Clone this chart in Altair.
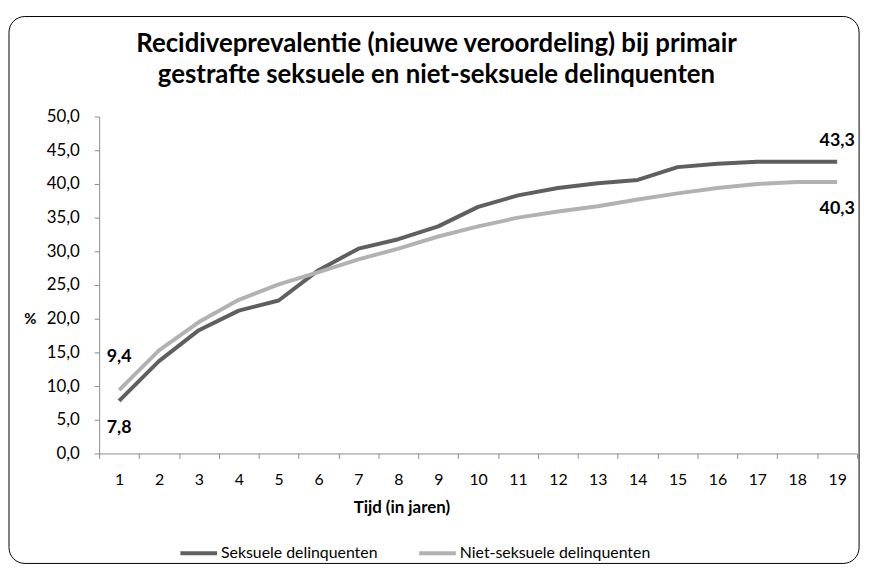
import altair as alt
import pandas as pd

jaren = list(range(1, 20))
seksueel = [7.8, 13.7, 18.3, 21.2, 22.7, 27.2, 30.4, 31.8, 33.7, 36.6, 38.3, 39.4,
            40.1, 40.6, 42.5, 43.0, 43.3, 43.3, 43.3]
niet_seksueel = [9.4, 15.3, 19.5, 22.8, 25.1, 26.9, 28.8, 30.4, 32.2, 33.7, 35.0, 35.9,
                 36.7, 37.7, 38.6, 39.4, 40.0, 40.3, 40.3]
reeksen = ["Seksuele delinquenten", "Niet-seksuele delinquenten"]
kleuren = ["#5f5f5f", "#b2b2b2"]

rows = []
for naam, waarden in zip(reeksen, [seksueel, niet_seksueel]):
    for j, v in zip(jaren, waarden):
        rows.append({"jaar": j, "pct": v, "reeks": naam,
                     "label": f"{v:.1f}".replace(".", ",")})
df = pd.DataFrame(rows)

FONT = "Lato"
GRAY = "#8c8c8c"

x_enc = alt.X("jaar:O", scale=alt.Scale(type="band", paddingInner=0, paddingOuter=0),
              axis=alt.Axis(title="Tijd (in jaren)", labelAngle=0, tickBand="extent",
                            tickSize=5, tickColor=GRAY, domainColor=GRAY,
                            labelFont=FONT, labelFontSize=16, labelColor="#000000",
                            labelPadding=13, titleFont=FONT, titleFontSize=17,
                            titleFontWeight="bold", titleColor="#000000",
                            titleX=305, titleY=55, titleBaseline="middle"))
y_enc = alt.Y("pct:Q", scale=alt.Scale(domain=[0, 50], nice=False),
              axis=alt.Axis(title="%", values=list(range(0, 51, 5)), grid=False,
                            labelExpr="replace(format(datum.value, '.1f'), '.', ',')",
                            labelOverlap=False,
                            tickSize=5, tickColor=GRAY, domainColor=GRAY,
                            labelFont=FONT, labelFontSize=17, labelColor="#000000",
                            labelPadding=15, titleFont=FONT, titleFontSize=15,
                            titleFontWeight="bold", titleColor="#000000", titleAngle=0,
                            titleX=-70, titleY=204, titleAlign="center",
                            titleBaseline="middle"))

base = alt.Chart(df)

lines = base.mark_line(strokeWidth=4, strokeJoin="round").encode(
    x=x_enc, y=y_enc,
    color=alt.Color("reeks:N", scale=alt.Scale(domain=reeksen, range=kleuren),
                    legend=alt.Legend(title=None, orient="none", legendX=80, legendY=420,
                                      direction="horizontal", symbolType="stroke",
                                      symbolSize=1369, symbolStrokeWidth=4,
                                      labelFont=FONT, labelFontSize=16, labelLimit=0,
                                      labelColor="#000000", labelOffset=2,
                                      columnPadding=34)),
)


def label_laag(filt, dy):
    return base.transform_filter(filt).mark_text(
        font=FONT, fontSize=18, fontWeight="bold", color="#000000",
        baseline="middle", dy=dy).encode(x=x_enc, y=y_enc, text="label:N")


lab_s_eind = label_laag("datum.reeks == 'Seksuele delinquenten' && datum.jaar == 19", -21)
lab_n_start = label_laag("datum.reeks == 'Niet-seksuele delinquenten' && datum.jaar == 1", -33)
lab_s_start = label_laag("datum.reeks == 'Seksuele delinquenten' && datum.jaar == 1", 27)
lab_n_eind = label_laag("datum.reeks == 'Niet-seksuele delinquenten' && datum.jaar == 19", 27)

rand = alt.Chart(pd.DataFrame({"d": [0]})).mark_rect(
    filled=False, stroke="#000000", strokeWidth=1, cornerRadius=16
).encode(x=alt.value(-91), x2=alt.value(767), y=alt.value(-101), y2=alt.value(451))

chart = alt.layer(rand, lines, lab_s_eind, lab_n_start, lab_s_start, lab_n_eind).properties(
    width=765, height=340,
    title=alt.TitleParams(
        text=["Recidiveprevalentie (nieuwe veroordeling) bij primair",
              "gestrafte seksuele en niet-seksuele delinquenten"],
        font=FONT, fontSize=26, fontWeight="bold", color="#000000",
        anchor="middle", dx=-42, lineHeight=32, offset=22, dy=95),
    autosize=alt.AutoSizeParams(type="none"),
    padding={"left": 92, "top": 107, "right": 11, "bottom": 111},
).configure_view(stroke=None)

chart.save("out.html", embed_options={"renderer": "svg", "actions": False})
